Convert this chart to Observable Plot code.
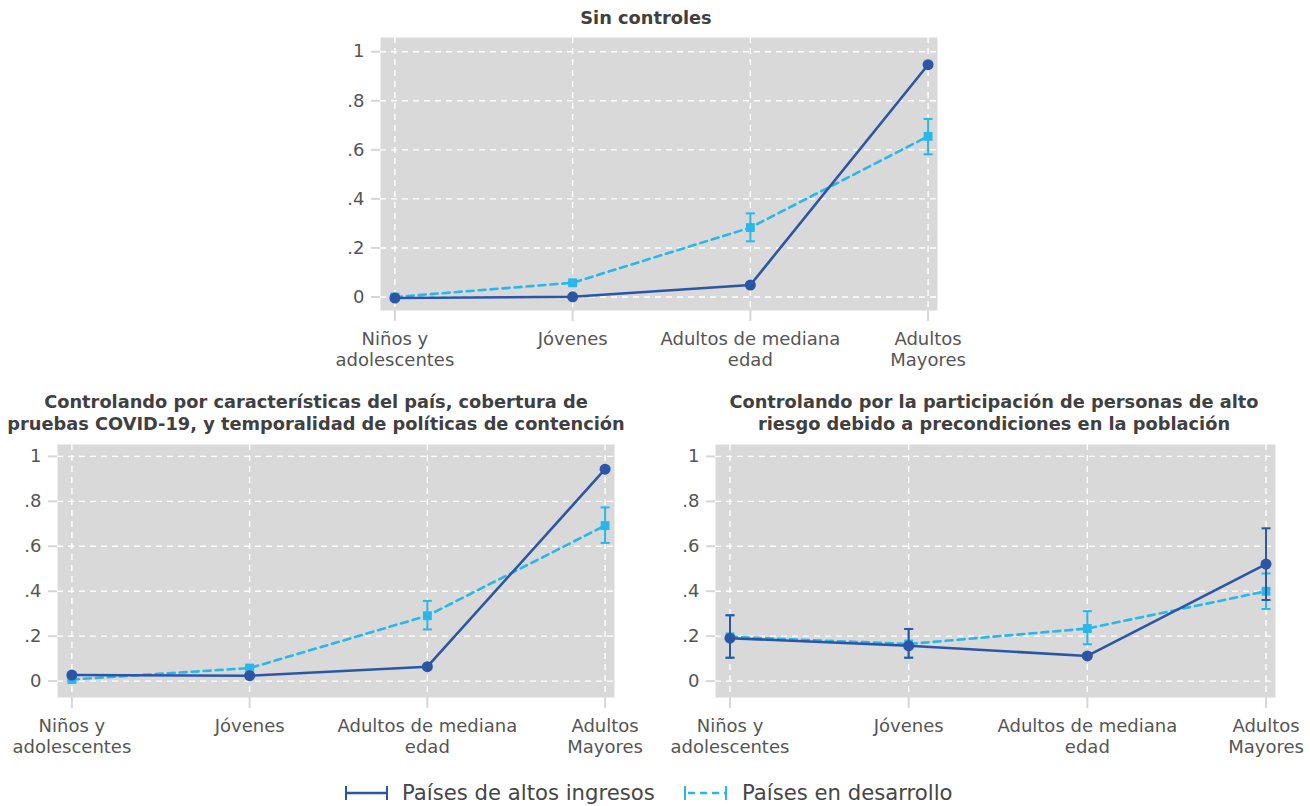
<!DOCTYPE html>
<html>
<head>
<meta charset="utf-8">
<script src="https://cdn.jsdelivr.net/npm/d3@7"></script>
<script src="https://cdn.jsdelivr.net/npm/@observablehq/plot@0.6"></script>
<style>
  html, body { margin: 0; padding: 0; background: #fff; }
  body { width: 1310px; height: 806px; position: relative; overflow: hidden; font-family: "DejaVu Sans", sans-serif; }
  .panel { position: absolute; }
  .panel svg { overflow: visible; }
  .title { position: absolute; font-weight: bold; font-size: 17.8px; color: #404040; text-align: center; line-height: 22px; white-space: nowrap; transform: translateX(-50%); }
  .legend { position: absolute; top: 780px; left: 0; width: 1310px; height: 26px; }
  .legend span { position: absolute; top: 0; font-size: 21.2px; color: #454545; line-height: 26px; white-space: nowrap; }
  .legend svg { position: absolute; top: 0; }
</style>
</head>
<body>
<div id="root"></div>
<script>
// ---- data ----
const categories = ["Niños y\nadolescentes", "Jóvenes", "Adultos de mediana\nedad", "Adultos\nMayores"];
const yTicks = [0, 0.2, 0.4, 0.6, 0.8, 1];
const yTickLabels = ["0", ".2", ".4", ".6", ".8", "1"];
const seriesNames = ["Países de altos ingresos", "Países en desarrollo"];
const panelTitles = [
  "Sin controles",
  "Controlando por características del país, cobertura de\npruebas COVID-19, y temporalidad de políticas de contención",
  "Controlando por la participación de personas de alto\nriesgo debido a precondiciones en la población"
];

// Panel 1: Sin controles
const p1Alto   = [-0.004, 0.001, 0.049, 0.947];
const p1AltoLo = [-0.007, -0.002, 0.045, 0.942];
const p1AltoHi = [-0.001, 0.004, 0.053, 0.952];
const p1Des    = [0.000, 0.058, 0.283, 0.655];
const p1DesLo  = [-0.003, 0.052, 0.227, 0.582];
const p1DesHi  = [0.003, 0.064, 0.341, 0.726];

// Panel 2: Controlando por características del país...
const p2Alto   = [0.027, 0.024, 0.064, 0.943];
const p2AltoLo = [0.023, 0.020, 0.060, 0.938];
const p2AltoHi = [0.031, 0.028, 0.068, 0.948];
const p2Des    = [0.007, 0.058, 0.291, 0.692];
const p2DesLo  = [0.002, 0.052, 0.230, 0.615];
const p2DesHi  = [0.012, 0.064, 0.357, 0.773];

// Panel 3: Controlando por la participación de personas de alto riesgo...
const p3Alto   = [0.191, 0.157, 0.112, 0.521];
const p3AltoLo = [0.104, 0.104, 0.106, 0.361];
const p3AltoHi = [0.293, 0.232, 0.118, 0.680];
const p3Des    = [0.197, 0.165, 0.234, 0.400];
const p3DesLo  = [0.104, 0.104, 0.164, 0.321];
const p3DesHi  = [0.293, 0.232, 0.311, 0.479];

// ---- styling ----
const darkBlue = "#2b56a5";
const lightBlue = "#26b8ea";
const panelBg = "#d9d9d9";
const FONT = "'DejaVu Sans', sans-serif";

function rows(vals, lo, hi, series) {
  return vals.map((v, i) => ({i, v, lo: lo[i], hi: hi[i], series}));
}

// horizontal cap symbol for error bars
const capSymbol = {
  draw(context, size) {
    const r = Math.sqrt(size / Math.PI);
    context.moveTo(-r, 0);
    context.lineTo(r, 0);
  }
};

function panel({alto, altoLo, altoHi, des, desLo, desHi, width, height, marginLeft, marginRight, marginTop, marginBottom, yDomain}) {
  const A = rows(alto, altoLo, altoHi, seriesNames[0]);
  const D = rows(des, desLo, desHi, seriesNames[1]);
  const idx = categories.map((c, i) => i);
  return Plot.plot({
    width, height, marginLeft, marginRight, marginTop, marginBottom,
    style: {fontFamily: FONT, fontSize: "18px", background: "transparent", overflow: "visible"},
    x: {type: "linear", domain: [-0.081, 3.053], axis: null},
    y: {domain: yDomain, axis: null},
    marks: [
      Plot.frame({fill: panelBg, stroke: "none"}),
      Plot.ruleY(yTicks, {stroke: "white", strokeDasharray: "6,5", strokeWidth: 1.4}),
      Plot.ruleX(idx, {stroke: "white", strokeDasharray: "6,5", strokeWidth: 1.4}),
      Plot.axisY(yTicks, {anchor: "left", tickSize: 9, tickPadding: 7, stroke: "#d6d6d6", strokeWidth: 2, fill: "#555", tickFormat: d => yTickLabels[yTicks.indexOf(d)], fontSize: 18, label: null}),
      Plot.axisX(idx, {anchor: "bottom", tickSize: 11, tickPadding: 8, stroke: "#d6d6d6", strokeWidth: 2, fill: "#555", tickFormat: d => categories[d], fontSize: 18, lineHeight: 1.2, label: null}),
      // developing countries (light, dashed)
      Plot.line(D, {x: "i", y: "v", stroke: lightBlue, strokeWidth: 2.6, strokeDasharray: "7,5"}),
      Plot.ruleX(D, {x: "i", y1: "lo", y2: "hi", stroke: lightBlue, strokeWidth: 2}),
      Plot.dot(D, {x: "i", y: "lo", symbol: capSymbol, r: 4.5, stroke: lightBlue, fill: "none", strokeWidth: 2}),
      Plot.dot(D, {x: "i", y: "hi", symbol: capSymbol, r: 4.5, stroke: lightBlue, fill: "none", strokeWidth: 2}),
      Plot.dot(D, {x: "i", y: "v", symbol: "square", r: 5, fill: lightBlue, stroke: "none"}),
      // high income (dark, solid)
      Plot.line(A, {x: "i", y: "v", stroke: darkBlue, strokeWidth: 2.6}),
      Plot.ruleX(A, {x: "i", y1: "lo", y2: "hi", stroke: darkBlue, strokeWidth: 2}),
      Plot.dot(A, {x: "i", y: "lo", symbol: capSymbol, r: 4.5, stroke: darkBlue, fill: "none", strokeWidth: 2}),
      Plot.dot(A, {x: "i", y: "hi", symbol: capSymbol, r: 4.5, stroke: darkBlue, fill: "none", strokeWidth: 2}),
      Plot.dot(A, {x: "i", y: "v", r: 5.5, fill: darkBlue, stroke: "none"})
    ]
  });
}

const root = document.getElementById("root");

function place(node, left, top) {
  const d = document.createElement("div");
  d.className = "panel";
  d.style.left = left + "px";
  d.style.top = top + "px";
  d.appendChild(node);
  root.appendChild(d);
}
function title(text, cx, top) {
  const d = document.createElement("div");
  d.className = "title";
  d.style.left = cx + "px";
  d.style.top = top + "px";
  d.innerHTML = text.split("\n").join("<br>");
  root.appendChild(d);
}

place(panel({alto: p1Alto, altoLo: p1AltoLo, altoHi: p1AltoHi, des: p1Des, desLo: p1DesLo, desHi: p1DesHi,
  width: 660, height: 345, marginLeft: 80, marginRight: 23, marginTop: 7, marginBottom: 65, yDomain: [-0.055, 1.058]}), 300, 30);
place(panel({alto: p2Alto, altoLo: p2AltoLo, altoHi: p2AltoHi, des: p2Des, desLo: p2DesLo, desHi: p2DesHi,
  width: 640, height: 325, marginLeft: 57, marginRight: 26, marginTop: 7, marginBottom: 65, yDomain: [-0.073, 1.053]}), 0, 437);
place(panel({alto: p3Alto, altoLo: p3AltoLo, altoHi: p3AltoHi, des: p3Des, desLo: p3DesLo, desHi: p3DesHi,
  width: 650, height: 325, marginLeft: 55, marginRight: 35, marginTop: 7, marginBottom: 65, yDomain: [-0.073, 1.053]}), 660, 437);

title(panelTitles[0], 646, 7);
title(panelTitles[1], 316, 391);
title(panelTitles[2], 994, 391);

// legend
const lg = document.createElement("div");
lg.className = "legend";
lg.innerHTML = `
  <svg style="left:344px" width="46" height="26"><line x1="2" y1="13" x2="43" y2="13" stroke="${darkBlue}" stroke-width="2.6"/><line x1="2" y1="6" x2="2" y2="20" stroke="${darkBlue}" stroke-width="2"/><line x1="43" y1="6" x2="43" y2="20" stroke="${darkBlue}" stroke-width="2"/></svg>
  <span style="left:402px">${seriesNames[0]}</span>
  <svg style="left:683px" width="46" height="26"><line x1="2" y1="13" x2="43" y2="13" stroke="${lightBlue}" stroke-width="2.6" stroke-dasharray="7,5" stroke-dashoffset="-3"/><line x1="2" y1="6" x2="2" y2="20" stroke="${lightBlue}" stroke-width="2"/><line x1="43" y1="6" x2="43" y2="20" stroke="${lightBlue}" stroke-width="2"/></svg>
  <span style="left:742px">${seriesNames[1]}</span>`;
root.appendChild(lg);
</script>
</body>
</html>
